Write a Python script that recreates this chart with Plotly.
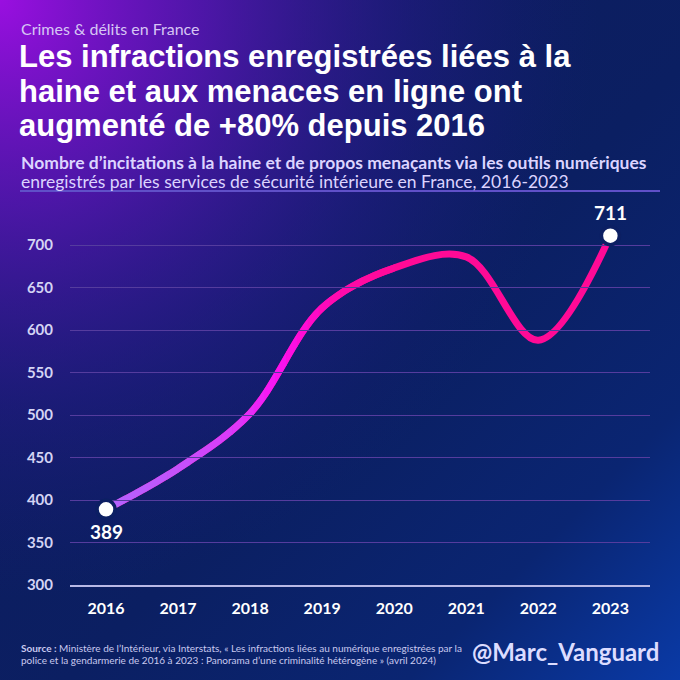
import base64
import plotly.graph_objects as go

# ---- data ----
years = [2016, 2017, 2018, 2019, 2020, 2021, 2022, 2023]
values = [389, 437, 502, 626, 673, 686, 588, 711]
y_ticks = [300, 350, 400, 450, 500, 550, 600, 650, 700]
x_labels = [str(y) for y in years]

W, H = 680, 680
ML, MR, MT, MB = 70, 30, 211, 95
PW, PH = W - ML - MR, H - MT - MB
X0, X1 = 2015.5, 2023.55
Y0, Y1 = 300, 740

FONT = "Lato, 'Noto Sans', sans-serif"
TITLE_FONT = "'Liberation Sans', Arial, sans-serif"
BG_DOT = "#0c1f63"

# line colour stops along the x axis (style only)
grad_stops = [(2015.5, (0xb0, 0x66, 0xff)), (2016.0, (0xb2, 0x64, 0xff)), (2017.0, (0xc4, 0x52, 0xfb)),
              (2017.85, (0xde, 0x36, 0xf8)), (2018.35, (0xfa, 0x14, 0xf4)), (2018.7, (0xff, 0x0c, 0xd8)),
              (2019.1, (0xff, 0x0a, 0xb4)), (2019.65, (0xff, 0x0a, 0x9e)), (2020.3, (0xff, 0x0a, 0x96))]
PINK = "#ff0a96"


def grad_color(t):
    for (a, ca), (b, cb) in zip(grad_stops[:-1], grad_stops[1:]):
        if a <= t <= b:
            f = (t - a) / (b - a)
            c = [round(ca[i] + f * (cb[i] - ca[i])) for i in range(3)]
            return "rgb({},{},{})".format(*c)
    return PINK


svg = f"""<svg xmlns="http://www.w3.org/2000/svg" width="{W}" height="{H}" viewBox="0 0 {W} {H}" preserveAspectRatio="none">
<defs>
<linearGradient id="b" x1="0" y1="0" x2="1" y2="1">
<stop offset="0" stop-color="#101a5c"/>
<stop offset="0.55" stop-color="#0b1f62"/>
<stop offset="0.8" stop-color="#0a2572"/>
<stop offset="1" stop-color="#0a3aa6"/>
</linearGradient>
<radialGradient id="p" cx="0" cy="0" r="1" gradientUnits="objectBoundingBox">
<stop offset="0" stop-color="#9a0fe0" stop-opacity="1"/>
<stop offset="0.3" stop-color="#6214c0" stop-opacity="0.75"/>
<stop offset="0.6" stop-color="#3418a0" stop-opacity="0.35"/>
<stop offset="0.88" stop-color="#1a1a80" stop-opacity="0"/>
</radialGradient>
</defs>
<rect width="{W}" height="{H}" fill="url(#b)"/>
<rect width="{W}" height="{H}" fill="url(#p)"/>
</svg>"""
bg_src = "data:image/svg+xml;base64," + base64.b64encode(svg.encode()).decode()

fig = go.Figure()
LINE_W = 7

# full line (pink) on the main axes
fig.add_trace(go.Scatter(
    x=years, y=values, mode="lines",
    line=dict(color=PINK, width=LINE_W, shape="spline"),
    hoverinfo="skip", showlegend=False,
))

# the same line redrawn in narrow clipped bands to imitate the colour gradient
band_edges = [X0 + 0.15 * i for i in range(0, 31)]  # up to 2020.0
span = X1 - X0
eps = 0.6 / PW
extra_axes = {}
k = 2
for a, b in zip(band_edges[:-1], band_edges[1:]):
    d0 = (a - X0) / span
    d1 = min(1.0, (b - X0) / span + eps)
    extra_axes[f"xaxis{k}"] = dict(domain=[d0, d1], range=[X0 + d0 * span, X0 + d1 * span],
                                   anchor="y", visible=False, fixedrange=True)
    fig.add_trace(go.Scatter(
        x=years, y=values, mode="lines", xaxis=f"x{k}", yaxis="y",
        line=dict(color=grad_color((a + b) / 2), width=LINE_W, shape="spline"),
        hoverinfo="skip", showlegend=False,
    ))
    k += 1

# end points on a top overlay
extra_axes[f"xaxis{k}"] = dict(domain=[0, 1], range=[X0, X1], anchor="y", visible=False, fixedrange=True)
fig.add_trace(go.Scatter(
    x=[years[0], years[-1]], y=[values[0], values[-1]], mode="markers", xaxis=f"x{k}", yaxis="y",
    marker=dict(size=18, color="white", line=dict(color=BG_DOT, width=3.5)),
    hoverinfo="skip", showlegend=False, cliponaxis=False,
))

fig.add_annotation(x=years[0], y=values[0], text=f"<b>{values[0]}</b>", showarrow=False,
                   yshift=-22, font=dict(family=FONT, size=19, color="white"))
fig.add_annotation(x=years[-1], y=values[-1], text=f"<b>{values[-1]}</b>", showarrow=False,
                   yshift=23, font=dict(family=FONT, size=19, color="white"))


def paper_x(px):
    return (px - ML) / PW


def paper_y(py):
    return (H - MB - py) / PH


def text_at(px, py, text, size, color, anchor="left", family=FONT):
    fig.add_annotation(xref="paper", yref="paper", x=paper_x(px), y=paper_y(py),
                       xanchor=anchor, yanchor="middle", align=anchor, showarrow=False,
                       text=text, font=dict(family=family, size=size, color=color))


text_at(19, 28.5, "Crimes &amp; délits en France", 16, "#d6c6f4")
title_lines = ["Les infractions enregistrées liées à la",
               "haine et aux menaces en ligne ont",
               "augmenté de +80% depuis 2016"]
for ty, line in zip([56.5, 91, 125.5], title_lines):
    text_at(17, ty, f"<b>{line}</b>", 31, "white", family=TITLE_FONT)
text_at(19, 163, "<b>Nombre d’incitations à la haine et de propos menaçants via les outils numériques</b>",
        17.5, "#dcd4ff")
text_at(19, 182, "enregistrés par les services de sécurité intérieure en France, 2016-2023", 17.5, "#dcd4ff")

fig.add_shape(type="line", xref="paper", yref="paper", x0=paper_x(20), x1=paper_x(660),
              y0=paper_y(191), y1=paper_y(191), line=dict(color="#6050c8", width=2))

text_at(19, 648, "<b>Source :</b> Ministère de l’Intérieur, via Interstats, « Les infractions liées au numérique enregistrées par la",
        10, "#c9c9ef")
text_at(19, 660, "police et la gendarmerie de 2016 à 2023 : Panorama d’une criminalité hétérogène » (avril 2024)",
        10, "#c9c9ef")
text_at(661, 651, "<b>@Marc_Vanguard</b>", 24, "#dcdcff", anchor="right")

fig.add_layout_image(dict(source=bg_src, xref="paper", yref="paper",
                          x=-ML / PW, y=1 + MT / PH, sizex=W / PW, sizey=H / PH,
                          xanchor="left", yanchor="top", sizing="stretch", layer="below"))

fig.update_layout(
    width=W, height=H, margin=dict(l=ML, r=MR, t=MT, b=MB),
    paper_bgcolor="#0b1f62", plot_bgcolor="rgba(0,0,0,0)",
    showlegend=False,
    xaxis=dict(range=[X0, X1], tickvals=years, ticktext=x_labels, showgrid=False,
               zeroline=False, showline=True, linecolor="#b9b9e6", linewidth=1.5,
               ticks="", ticklabelstandoff=8,
               tickfont=dict(family=FONT, size=16, color="white", weight="bold"), fixedrange=True),
    yaxis=dict(range=[Y0, Y1], tickvals=y_ticks, showgrid=True, gridcolor="#553c9e", gridwidth=1,
               zeroline=False, showline=False, ticks="", ticklabelstandoff=16,
               tickfont=dict(family=FONT, size=15, color="#d4d4f4", weight="bold"), fixedrange=True),
    **extra_axes,
)

fig.write_html("out.html", config={"displayModeBar": False},
               post_script="document.body.style.margin='0';document.body.style.overflow='hidden';")
